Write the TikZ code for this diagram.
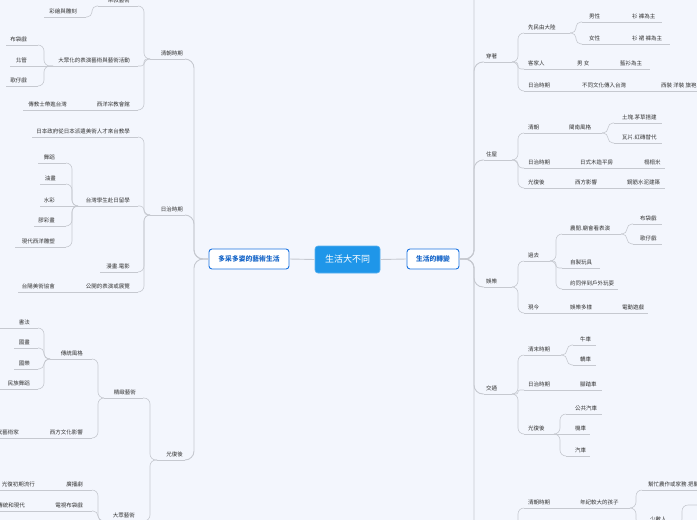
\documentclass[tikz,border=0pt]{standalone}
\usepackage{fontspec}
\newfontfamily\cjk{Noto Sans CJK TC}
\usetikzlibrary{calc}
\definecolor{bg}{HTML}{F3F6FD}
\definecolor{ln}{HTML}{C6C9D0}
\definecolor{txt}{HTML}{333333}
\definecolor{cfill}{HTML}{1F96E9}
\definecolor{cdraw}{HTML}{5AB2F0}
\definecolor{sdraw}{HTML}{1A73E0}
\definecolor{stext}{HTML}{1565C8}
\tikzset{
  lbl/.style={inner sep=0pt, font=\cjk\fontsize{5.5}{6.6}\selectfont, text=txt},
  uline/.style={draw=ln, line width=0.6pt},
  conn/.style={draw=ln, line width=0.6pt},
  trunk/.style={draw=ln, line width=0.9pt},
  centerbox/.style={fill=cfill, draw=cdraw, line width=0.6pt, rounded corners=3pt, text=white,
     font=\cjk\fontsize{9}{10}\selectfont, minimum width=65pt, minimum height=27pt, inner sep=0pt},
  sidebox/.style={fill=white, draw=sdraw, line width=0.9pt, rounded corners=3pt, text=stext,
     font=\cjk\bfseries\fontsize{6.8}{8}\selectfont, minimum height=20pt, inner sep=0pt}
}
% topic on the right side: name, xl, xr, ytext, text-left, text
\newcommand\tpR[6]{%
  \coordinate (#1-l) at (#2,#4+6);
  \coordinate (#1-r) at (#3,#4+6);
  \draw[uline] (#1-l) -- (#1-r);
  \node[lbl,anchor=west] (#1) at (#5,#4) {#6};}
% topic on the left side: name, xl, xr, ytext, text-right, text
\newcommand\tpL[6]{%
  \coordinate (#1-l) at (#2,#4+6);
  \coordinate (#1-r) at (#3,#4+6);
  \draw[uline] (#1-l) -- (#1-r);
  \node[lbl,anchor=east] (#1) at (#5,#4) {#6};}
\newcommand\lnk[4][6]{\draw[conn,rounded corners=#1pt] let \p1=(#2), \p2=(#3) in (\p1) -- (#4pt,\y1) -- (#4pt,\y2) -- (\p2);}
\newcommand\lnkT[4][9]{\draw[trunk,rounded corners=#1pt] let \p1=(#2), \p2=(#3) in (\p1) -- (#4pt,\y1) -- (#4pt,\y2) -- (\p2);}
\newcommand\sln[2]{\draw[conn] (#1) -- (#2);}
\begin{document}
\begin{tikzpicture}[x=1pt,y=-1pt]
\useasboundingbox (0,0) rectangle (697,520);
\fill[bg] (0,0) rectangle (697,520);

% ---------- centre ----------
\node[centerbox] (C) at (347.5,259.5) {生活大不同};
\node[sidebox, minimum width=80pt] (L) at (249,259) {多采多姿的藝術生活};
\node[sidebox, minimum width=52pt] (R) at (433,259) {生活的轉變};
\draw[trunk] (C.west) -- (L.east);
\draw[trunk] (C.east) -- (R.west);

% ================= RIGHT SIDE =================
\coordinate (upR) at (484,-40);
\coordinate (edR) at (484,570);
\coordinate (edRr) at (512,570);

\tpR{cz}{484}{512}{56}{486}{穿著}
\tpR{zw}{484}{512}{154}{486}{住屋}
\tpR{yl}{484}{512}{281}{486}{娛樂}
\tpR{jt}{484}{512}{388}{486}{交通}
\lnkT{R.east}{upR}{474}
\lnkT{R.east}{cz-l}{474}
\lnkT{R.east}{zw-l}{474}
\lnkT{R.east}{yl-l}{474}
\lnkT{R.east}{jt-l}{474}
\lnkT{R.east}{edR}{474}

% 穿著
\tpR{xm}{524}{570}{27}{528}{先民由大陸}
\tpR{nx}{582}{618}{16}{589}{男性}
\tpR{nxa}{622}{662}{16}{632}{衫 褲為主}
\tpR{vx}{582}{618}{38}{589}{女性}
\tpR{vxa}{622}{670}{38}{632}{衫 裙 褲為主}
\tpR{kj}{524}{568}{63}{528}{客家人}
\tpR{kja}{572}{606}{63}{577}{男 女}
\tpR{kjb}{610}{650}{63}{620}{藍衫為主}
\tpR{cr}{524}{573}{85}{528}{日治時期}
\tpR{cra}{577}{646}{85}{582}{不同文化傳入台灣}
\tpR{crb}{650}{720}{85}{661}{西裝 洋裝 旗袍}
\lnk{cz-r}{xm-l}{518}
\lnk[3]{cz-r}{kj-l}{518}
\lnk{cz-r}{cr-l}{518}
\lnk[5]{xm-r}{nx-l}{576}
\lnk[5]{xm-r}{vx-l}{576}
\sln{nx-r}{nxa-l}
\sln{vx-r}{vxa-l}
\sln{kj-r}{kja-l}
\sln{kja-r}{kjb-l}
\sln{cr-r}{cra-l}
\sln{cra-r}{crb-l}

% 住屋
\tpR{qcR}{524}{556}{127}{528}{清朝}
\tpR{mn}{560}{602}{127}{569}{閩南風格}
\tpR{tk}{614}{662}{117}{622}{土塊.茅草搭建}
\tpR{wp}{614}{662}{137}{622}{瓦片.紅磚替代}
\tpR{rzR}{524}{573}{162}{528}{日治時期}
\tpR{rs}{577}{631}{162}{580}{日式木造平房}
\tpR{tt}{635}{665}{162}{644}{榻榻米}
\tpR{gfR}{524}{566}{182}{528}{光復後}
\tpR{xf2}{570}{616}{182}{575}{西方影響}
\tpR{gj}{620}{665}{182}{627}{鋼筋水泥建築}
\lnk{zw-r}{qcR-l}{518}
\lnk[4]{zw-r}{rzR-l}{518}
\lnk{zw-r}{gfR-l}{518}
\sln{qcR-r}{mn-l}
\lnk[5]{mn-r}{tk-l}{608}
\lnk[5]{mn-r}{wp-l}{608}
\sln{rzR-r}{rs-l}
\sln{rs-r}{tt-l}
\sln{gfR-r}{xf2-l}
\sln{xf2-r}{gj-l}

% 娛樂
\tpR{gq}{524}{550}{255}{528}{過去}
\tpR{nb}{562}{621}{228}{570}{農閒.廟會看表演}
\tpR{bd}{633}{662}{218}{640}{布袋戲}
\tpR{gz}{633}{662}{238}{640}{歌仔戲}
\tpR{zz}{562}{600}{262}{570}{自製玩具}
\tpR{yb}{562}{618}{283}{570}{約同伴到戶外玩耍}
\tpR{xj}{524}{563}{307}{528}{現今}
\tpR{xja}{567}{608}{307}{570}{娛樂多樣}
\tpR{xjb}{612}{648}{307}{622}{電動遊戲}
\lnk{yl-r}{gq-l}{518}
\lnk{yl-r}{xj-l}{518}
\lnk{gq-r}{nb-l}{556}
\lnk[3]{gq-r}{zz-l}{556}
\lnk{gq-r}{yb-l}{556}
\lnk[5]{nb-r}{bd-l}{627}
\lnk[5]{nb-r}{gz-l}{627}
\sln{xj-r}{xja-l}
\sln{xja-r}{xjb-l}

% 交通
\tpR{qm}{524}{561}{349}{528}{清末時期}
\tpR{nc}{573}{596}{339}{580}{牛車}
\tpR{jc}{573}{596}{359}{580}{轎車}
\tpR{rzT}{524}{573}{384}{528}{日治時期}
\tpR{jtc}{577}{602}{384}{580}{腳踏車}
\tpR{gfT}{524}{554}{428}{528}{光復後}
\tpR{gg}{566}{602}{408}{575}{公共汽車}
\tpR{jche}{566}{590}{428}{575}{機車}
\tpR{qche}{566}{590}{450}{575}{汽車}
\lnk{jt-r}{qm-l}{518}
\lnk[2]{jt-r}{rzT-l}{518}
\lnk{jt-r}{gfT-l}{518}
\lnk[5]{qm-r}{nc-l}{567}
\lnk[5]{qm-r}{jc-l}{567}
\sln{rzT-r}{jtc-l}
\lnk{gfT-r}{gg-l}{560}
\sln{gfT-r}{jche-l}
\lnk{gfT-r}{qche-l}{560}

% bottom right
\tpR{qcB}{524}{573}{502}{528}{清朝時期}
\tpR{nj}{577}{630}{502}{580}{年紀較大的孩子}
\tpR{bm}{642}{720}{484}{648}{幫忙農作或家務.把關}
\tpR{ss}{642}{676}{519}{650}{少數人}
\coordinate (brOff) at (705,505);
\lnk{edRr}{qcB-l}{518}
\sln{qcB-r}{nj-l}
\lnk{nj-r}{bm-l}{636}
\lnk{nj-r}{ss-l}{636}
\lnk{ss-r}{brOff}{682}

% ================= LEFT SIDE =================
\tpL{qc}{150}{185}{53}{183}{清朝時期}
\tpL{rz}{150}{185}{209}{183}{日治時期}
\tpL{gf}{157}{185}{454}{183}{光復後}
\lnkT{L.west}{qc-r}{194}
\lnkT{L.west}{rz-r}{194}
\lnkT{L.west}{gf-r}{194}

% 清朝時期
\tpL{zj}{98}{138}{0}{130}{宗教藝術}
\tpL{ch}{44}{86}{11}{77}{彩繪與雕刻}
\tpL{dz}{53}{138}{60}{130}{大眾化的表演藝術與藝術活動}
\tpL{bdL}{6}{38}{39}{27}{布袋戲}
\tpL{bg}{10}{49}{60}{27}{北管}
\tpL{gzL}{6}{38}{80}{27}{歌仔戲}
\tpL{xy}{92}{138}{104}{130}{西洋宗教會館}
\tpL{cc}{23}{88}{104}{67}{傳教士帶進台灣}
\lnk{qc-l}{zj-r}{144}
\lnk[3]{qc-l}{dz-r}{144}
\lnk{qc-l}{xy-r}{144}
\lnk[5]{zj-l}{ch-r}{92}
\lnk{dz-l}{bdL-r}{44}
\sln{dz-l}{bg-r}
\lnk{dz-l}{gzL-r}{44}
\sln{xy-l}{cc-r}

% 日治時期
\tpL{rb}{32}{138}{131}{130}{日本政府從日本派遣美術人才來台教學}
\tpL{tw}{78}{138}{200}{130}{台灣學生赴日留學}
\tpL{wd}{38}{66}{157}{55}{舞蹈}
\tpL{yh}{40}{66}{178}{56}{油畫}
\tpL{sc}{40}{74}{200}{55}{水彩}
\tpL{jch}{34}{66}{220}{55}{膠彩畫}
\tpL{xd}{15}{66}{241}{55}{現代西洋雕塑}
\tpL{mh}{100}{138}{266}{130}{漫畫.電影}
\tpL{gk}{78}{138}{286}{130}{公開的表演或展覽}
\tpL{ty}{18}{74}{286}{55}{台陽美術協會}
\lnk{rz-l}{rb-r}{144}
\lnk[4]{rz-l}{tw-r}{144}
\lnk{rz-l}{mh-r}{144}
\lnk{rz-l}{gk-r}{144}
\lnk{tw-l}{wd-r}{72}
\lnk{tw-l}{yh-r}{72}
\sln{tw-l}{sc-r}
\lnk{tw-l}{jch-r}{72}
\lnk{tw-l}{xd-r}{72}
\sln{gk-l}{ty-r}

% 光復後
\tpL{jz}{104}{143}{392}{136}{精緻藝術}
\tpL{ct}{50}{92}{353}{83}{傳統風格}
\tpL{sf}{0}{38}{322}{30}{書法}
\tpL{gh}{14}{38}{342}{30}{國畫}
\tpL{gy}{14}{38}{363}{30}{國樂}
\tpL{mz}{0}{38}{383}{30}{民族舞蹈}
\tpL{xw}{25}{92}{432}{83}{西方文化影響}
\tpL{ys}{-30}{21}{432}{19}{現代藝術家}
\tpL{dy}{104}{143}{515}{135}{大眾藝術}
\tpL{gb}{42}{92}{484}{83}{廣播劇}
\tpL{gbc}{-5}{38}{484}{35}{光復初期流行}
\tpL{ds}{30}{92}{505}{83}{電視布袋戲}
\tpL{dsc}{-20}{26}{505}{25}{結合傳統和現代}
\coordinate (dyOff) at (92,545);
\lnk{gf-l}{jz-r}{150}
\lnk{gf-l}{dy-r}{150}
\lnk{jz-l}{ct-r}{98}
\lnk{jz-l}{xw-r}{98}
\lnk{ct-l}{sf-r}{44}
\lnk[5]{ct-l}{gh-r}{44}
\lnk[5]{ct-l}{gy-r}{44}
\lnk{ct-l}{mz-r}{44}
\sln{xw-l}{ys-r}
\lnk{dy-l}{gb-r}{98}
\lnk[5]{dy-l}{ds-r}{98}
\lnk{dy-l}{dyOff}{98}
\sln{gb-l}{gbc-r}
\sln{ds-l}{dsc-r}
\end{tikzpicture}
\end{document}
